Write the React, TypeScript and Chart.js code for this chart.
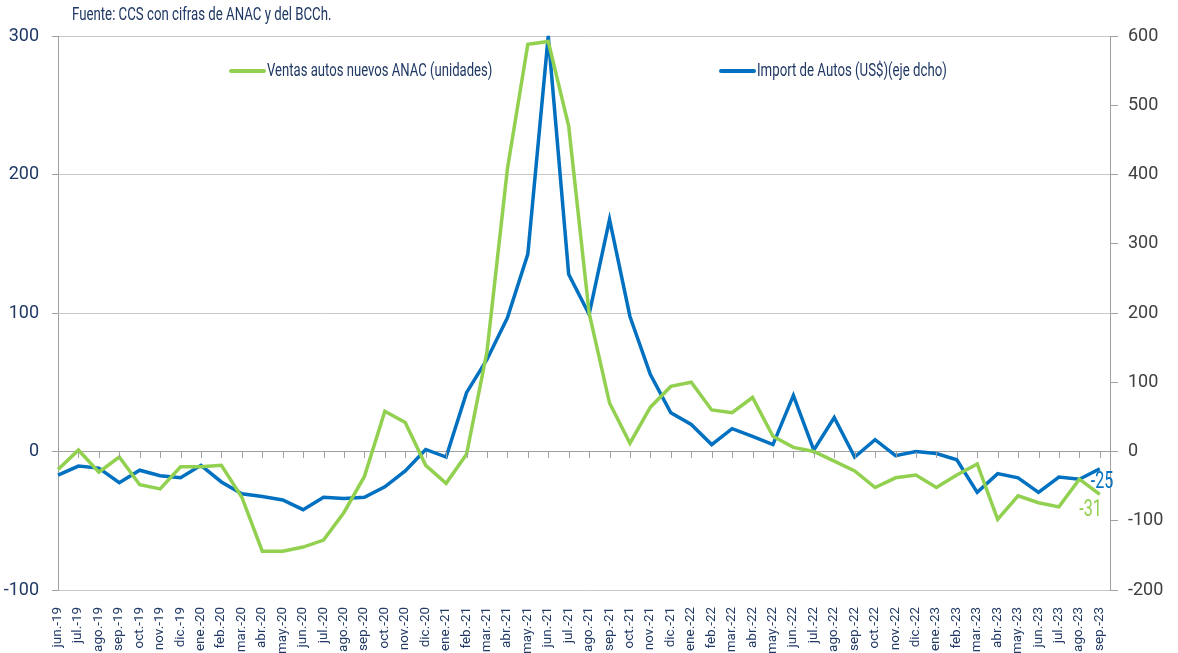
import React, { useEffect, useRef } from "react";
import { Chart, registerables } from "chart.js";

Chart.register(...registerables);

const labels = [
  "jun.-19", "jul.-19", "ago.-19", "sep.-19", "oct.-19", "nov.-19", "dic.-19",
  "ene.-20", "feb.-20", "mar.-20", "abr.-20", "may.-20", "jun.-20", "jul.-20", "ago.-20", "sep.-20", "oct.-20", "nov.-20", "dic.-20",
  "ene.-21", "feb.-21", "mar.-21", "abr.-21", "may.-21", "jun.-21", "jul.-21", "ago.-21", "sep.-21", "oct.-21", "nov.-21", "dic.-21",
  "ene.-22", "feb.-22", "mar.-22", "abr.-22", "may.-22", "jun.-22", "jul.-22", "ago.-22", "sep.-22", "oct.-22", "nov.-22", "dic.-22",
  "ene.-23", "feb.-23", "mar.-23", "abr.-23", "may.-23", "jun.-23", "jul.-23", "ago.-23", "sep.-23",
];

const ventas = [
  -13, 1, -15, -4, -24, -27, -11,
  -11, -10, -33, -72, -72, -69, -64, -44, -18, 29, 21, -10,
  -23, -2, 72, 204, 294, 296, 235, 100, 35, 6, 32, 47,
  50, 30, 28, 39, 11, 3, 0, -7, -14, -26, -19, -17,
  -26, -17, -9, -49, -32, -37, -40, -20, -31,
];

const importAutos = [
  -34, -21, -24, -45, -27, -35, -38,
  -20, -44, -61, -65, -70, -84, -66, -68, -66, -51, -28, 3,
  -8, 85, 133, 193, 285, 600, 256, 198, 335, 195, 111, 56,
  39, 10, 33, 22, 10, 81, 2, 49, -8, 17, -6, 0,
  -3, -12, -59, -32, -38, -59, -37, -40, -25,
];

const leftTicks = [-100, 0, 100, 200, 300];
const rightTicks = [-200, -100, 0, 100, 200, 300, 400, 500, 600];

const titleText = "Fuente: CCS con cifras de ANAC y del BCCh.";
const legendVentas = "Ventas autos nuevos ANAC (unidades)";
const legendImport = "Import de Autos (US$)(eje dcho)";

const GREEN = "#92D050";
const BLUE = "#0070C0";
const NAVY = "#1F3864";
const FONT = "Roboto, 'Liberation Sans', sans-serif";

function drawScaled(
  ctx: CanvasRenderingContext2D,
  text: string,
  x: number,
  y: number,
  size: number,
  sx: number,
  color: string,
  align: CanvasTextAlign,
  rotate = 0
) {
  ctx.save();
  ctx.translate(x, y);
  if (rotate) ctx.rotate(rotate);
  ctx.scale(sx, 1);
  ctx.font = `${size}px ${FONT}`;
  ctx.fillStyle = color;
  ctx.textAlign = align;
  ctx.textBaseline = "middle";
  ctx.fillText(text, 0, 0);
  ctx.restore();
}

const overlay = {
  id: "overlay",
  afterDraw(chart: any) {
    const { ctx, chartArea, scales } = chart;
    const x = scales.x;
    const yL = scales.yL;
    const yR = scales.yR;
    ctx.save();
    // tick marks on zero line
    const y0 = Math.round(yL.getPixelForValue(0));
    ctx.strokeStyle = "#A0A0A0";
    ctx.lineWidth = 1;
    for (let i = 0; i < labels.length; i++) {
      const px = Math.round(x.getPixelForValue(i)) + 0.5;
      ctx.beginPath();
      ctx.moveTo(px, y0);
      ctx.lineTo(px, y0 + 6);
      ctx.stroke();
    }
    // x labels (rotated)
    for (let i = 0; i < labels.length; i++) {
      const px = x.getPixelForValue(i);
      drawScaled(ctx, labels[i], px, 607, 12, 1.12, NAVY, "right", -Math.PI / 2);
    }
    // title
    drawScaled(ctx, titleText, 72, 15, 18, 0.735, NAVY, "left");
    // legend
    const ly = chartArea.top + 35;
    ctx.lineWidth = 4;
    ctx.lineCap = "round";
    ctx.strokeStyle = GREEN;
    ctx.beginPath();
    ctx.moveTo(231, ly);
    ctx.lineTo(264, ly);
    ctx.stroke();
    drawScaled(ctx, legendVentas, 267, ly, 18, 0.728, NAVY, "left");
    ctx.strokeStyle = BLUE;
    ctx.beginPath();
    ctx.moveTo(721, ly);
    ctx.lineTo(754, ly);
    ctx.stroke();
    drawScaled(ctx, legendImport, 757, ly, 18, 0.735, NAVY, "left");
    // end labels
    const last = labels.length - 1;
    const lx = x.getPixelForValue(last);
    const vb = importAutos[last];
    drawScaled(ctx, String(Math.round(vb)), lx - 9, yR.getPixelForValue(vb) + 13, 23, 0.7, BLUE, "left");
    const vg = ventas[last];
    drawScaled(ctx, String(Math.round(vg)), lx + 2, yL.getPixelForValue(vg) + 16, 23, 0.7, GREEN, "right");
    ctx.restore();
  },
};

export default function App() {
  const ref = useRef<HTMLCanvasElement>(null);
  useEffect(() => {
    if (!ref.current) return;
    const chart = new Chart(ref.current, {
      type: "line",
      data: {
        datasets: [
          {
            label: legendVentas,
            data: ventas.map((v, i) => ({ x: i, y: v })),
            borderColor: GREEN,
            backgroundColor: GREEN,
            borderWidth: 3.5,
            pointRadius: 0,
            tension: 0,
            yAxisID: "yL",
            clip: false as any,
          },
          {
            label: legendImport,
            data: importAutos.map((v, i) => ({ x: i, y: v })),
            borderColor: BLUE,
            backgroundColor: BLUE,
            borderWidth: 3.5,
            pointRadius: 0,
            tension: 0,
            yAxisID: "yR",
            clip: false as any,
          },
        ],
      },
      options: {
        animation: false,
        responsive: false,
        maintainAspectRatio: false,
        layout: { padding: { top: 36, left: 0, right: 0, bottom: 0 } },
        plugins: { legend: { display: false }, tooltip: { enabled: false } },
        scales: {
          x: {
            type: "linear",
            min: 0,
            max: 51.5,
            grid: { display: false },
            border: { display: false },
            afterFit(s: any) { s.height = 63; },
            afterBuildTicks(s: any) {
              s.ticks = labels.map((_, i) => ({ value: i }));
            },
            ticks: { display: false },
          },
          yL: {
            type: "linear",
            position: "left",
            min: -100,
            max: 300,
            afterFit(s: any) { s.width = 58; },
            afterBuildTicks(s: any) {
              s.ticks = leftTicks.map((v) => ({ value: v }));
            },
            grid: {
              color: (c: any) => (c.tick && c.tick.value === 0 ? "#A0A0A0" : "#C8C8C8"),
              tickColor: "#A0A0A0",
              tickLength: 6,
            },
            border: { display: true, color: "#A0A0A0" },
            ticks: {
              padding: 13,
              color: NAVY,
              font: { family: FONT, size: 18 },
            },
          },
          yR: {
            type: "linear",
            position: "right",
            min: -200,
            max: 600,
            afterFit(s: any) { s.width = 68; },
            afterBuildTicks(s: any) {
              s.ticks = rightTicks.map((v) => ({ value: v }));
            },
            grid: { drawOnChartArea: false, color: "#A0A0A0", tickLength: 8 },
            border: { display: true, color: "#A0A0A0" },
            ticks: {
              padding: 10,
              color: "#404040",
              font: { family: FONT, size: 18 },
            },
          },
        },
      },
      plugins: [overlay],
    } as any);
    return () => chart.destroy();
  }, []);
  return (
    <div style={{ position: "absolute", left: 0, top: 0, width: 1178, height: 653, background: "#fff" }}>
      <canvas ref={ref} width={1178} height={653} style={{ width: 1178, height: 653 }} />
    </div>
  );
}
